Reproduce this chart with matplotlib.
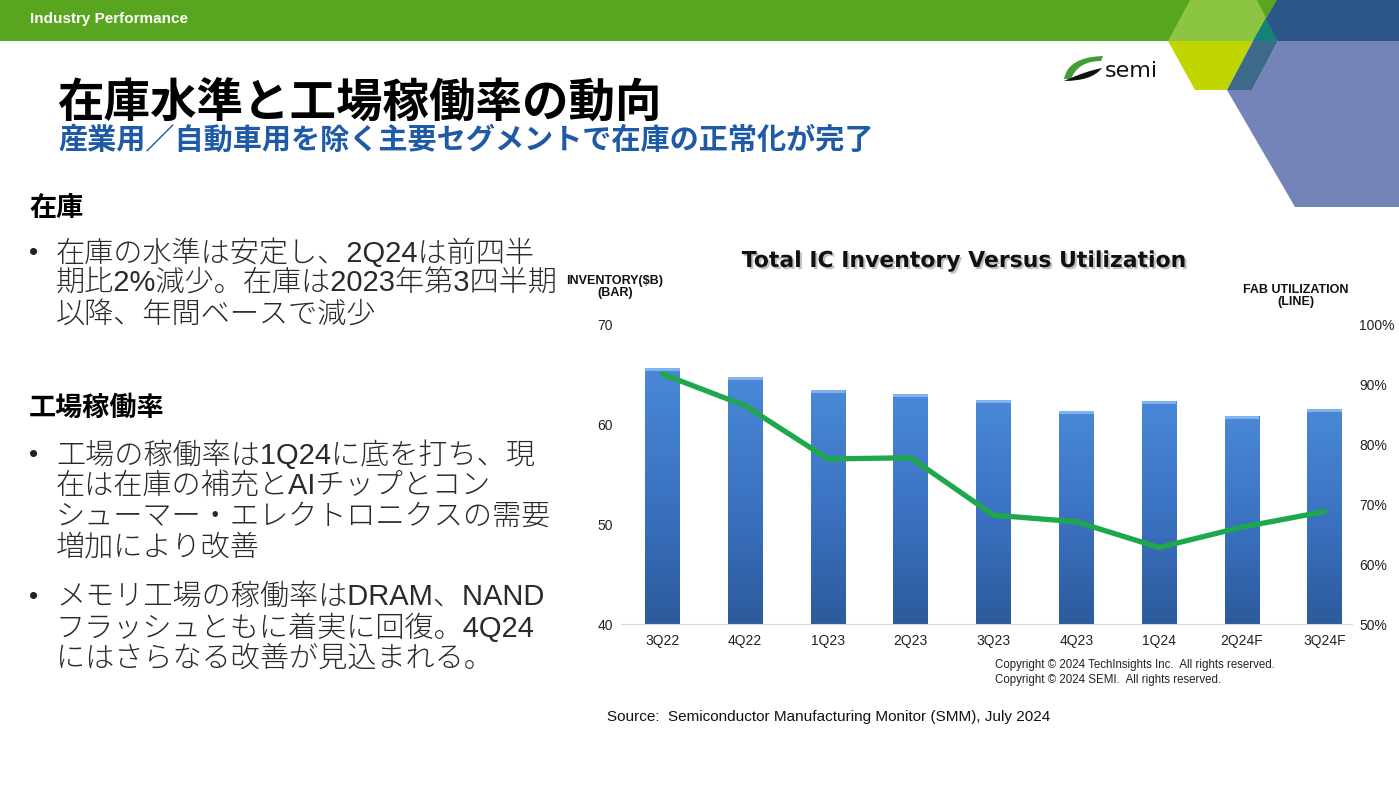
""" Inventory vs fab utilization slide """
import numpy as np
import matplotlib
matplotlib.use('Agg')
import matplotlib.pyplot as plt
import matplotlib.patheffects as pe
from matplotlib.patches import Polygon, PathPatch
from matplotlib.path import Path
from matplotlib.colors import LinearSegmentedColormap
from matplotlib import font_manager

quarters = ['3Q22', '4Q22', '1Q23', '2Q23', '3Q23', '4Q23', '1Q24', '2Q24F', '3Q24F']
inventory = [65.7, 64.8, 63.5, 63.1, 62.5, 61.4, 62.4, 60.9, 61.6]      # $B, bars
utilization = [91.8, 86.5, 77.6, 77.8, 68.2, 67.1, 62.8, 66.2, 68.8]    # %, line
inv_ticks = [40, 50, 60, 70]
util_ticks = [50, 60, 70, 80, 90, 100]

names = set(f.name for f in font_manager.fontManager.ttflist)
narrow = 'Liberation Sans Narrow' if 'Liberation Sans Narrow' in names else 'Liberation Sans'
JP = ['Liberation Sans', 'Noto Sans CJK JP', 'DejaVu Sans']

fig = plt.figure(figsize=(13.99, 7.87), dpi=100)

""" Slide background in pixel coordinates """
bg = fig.add_axes([0, 0, 1, 1], zorder=0)
bg.set_xlim(0, 1399)
bg.set_ylim(787, 0)
bg.axis('off')

bg.add_patch(Polygon([(0, 0), (1399, 0), (1399, 41), (0, 41)], color='#58a51f', lw=0))
bg.add_patch(Polygon([(1277, 0), (1399, 0), (1399, 41), (1253, 41)], color='#2c5689', lw=0))
bg.add_patch(Polygon([(1190, 0), (1257, 0), (1266, 18), (1253, 41), (1168, 41)], color='#8cc542', lw=0))
bg.add_patch(Polygon([(1266, 18), (1278, 41), (1253, 41)], color='#16807a', lw=0))
bg.add_patch(Polygon([(1168, 41), (1253, 41), (1227, 90), (1195, 90)], color='#c1d600', lw=0))
bg.add_patch(Polygon([(1278, 41), (1399, 41), (1399, 207), (1295, 207), (1227, 90), (1252, 90)],
                     color='#7484b8', lw=0))
bg.add_patch(Polygon([(1253, 41), (1278, 41), (1252, 90), (1227, 90)], color='#3d6a8a', lw=0))

bg.text(30, 19, 'Industry Performance', color='white', fontsize=11, fontweight='bold',
        family='Liberation Sans', va='center')

""" semi logo """
green = Path([(1064, 79), (1068, 57), (1103, 56), (1101, 61), (1078, 61), (1071, 79), (1064, 79)],
             [Path.MOVETO, Path.CURVE3, Path.CURVE3, Path.LINETO, Path.CURVE3, Path.CURVE3, Path.CLOSEPOLY])
black = Path([(1064, 81), (1092, 81), (1102, 68), (1086, 71), (1064, 81)],
             [Path.MOVETO, Path.CURVE3, Path.CURVE3, Path.CURVE3, Path.CURVE3])
bg.add_patch(PathPatch(green, color='#3f9e35', lw=0))
bg.add_patch(PathPatch(black, color='#111111', lw=0))
bg.text(1105, 71, 'semi', fontsize=16, family='DejaVu Sans', color='#111111', va='center')

""" Titles """
bg.text(58, 103, '在庫水準と工場稼働率の動向', fontsize=33.5, fontweight='bold',
        family=['Noto Sans CJK JP'], va='center', color='black')
bg.text(58, 140, '産業用／自動車用を除く主要セグメントで在庫の正常化が完了', fontsize=21,
        fontweight='bold', family=['Noto Sans CJK JP'], va='center', color='#1f5aa6')

""" Left text """
bg.text(29, 209, '在庫', fontsize=19.5, fontweight='bold', family=JP, va='center')
bg.text(29, 409, '工場稼働率', fontsize=19.5, fontweight='bold', family=JP, va='center')

lines = [
    (253, True, '在庫の水準は安定し、2Q24は前四半'),
    (284, False, '期比2%減少。在庫は2023年第3四半期'),
    (315, False, '以降、年間ベースで減少'),
    (455, True, '工場の稼働率は1Q24に底を打ち、現'),
    (486, False, '在は在庫の補充とAIチップとコン'),
    (517, False, 'シューマー・エレクトロニクスの需要'),
    (548, False, '増加により改善'),
    (597, True, 'メモリ工場の稼働率はDRAM、NAND'),
    (628, False, 'フラッシュともに着実に回復。4Q24'),
    (659, False, 'にはさらなる改善が見込まれる。'),
]
for y, bullet, s in lines:
    if bullet:
        bg.text(29, y, '•', fontsize=19, family='Liberation Sans', va='center', color='#222222')
    bg.text(56, y, s, fontsize=21, family=JP, fontweight='light', va='center', color='#2a2a2a')

""" Chart """
ax = fig.add_axes([621 / 1399, 1 - 624 / 787, (1352 - 621) / 1399, (624 - 325) / 787], zorder=2)
ax.patch.set_alpha(0)
x = np.arange(len(quarters))
bars = ax.bar(x, inventory, width=0.42, bottom=0, color='none', zorder=2)
cmap = LinearSegmentedColormap.from_list('bar', ['#2c5a9c', '#3b73c2', '#4a88d8'])
grad = np.linspace(0, 1, 256).reshape(-1, 1)
for b in bars:
    x0, w, h = b.get_x(), b.get_width(), b.get_height()
    im = ax.imshow(grad, extent=[x0, x0 + w, 40, h], origin='lower', cmap=cmap,
                   aspect='auto', zorder=2)
    im.set_clip_path(b)
    ax.add_patch(Polygon([(x0, h - 0.35), (x0 + w, h - 0.35), (x0 + w, h), (x0, h)],
                         color='#7fb2ee', lw=0, zorder=3))

ax.set_xlim(-0.5, 8.33)
ax.set_ylim(40, 70)
ax.set_yticks(inv_ticks)
ax.set_xticks(x)
ax.set_xticklabels(quarters)
for s in ['top', 'left', 'right']:
    ax.spines[s].set_visible(False)
ax.spines['bottom'].set_color('#d9d9d9')
ax.tick_params(axis='both', length=0, labelsize=10, labelcolor='#222222')
ax.tick_params(axis='x', pad=7)
ax.tick_params(axis='y', pad=6)
for t in ax.get_xticklabels() + ax.get_yticklabels():
    t.set_family(narrow)

ax2 = ax.twinx()
ax2.set_zorder(3)
ax2.patch.set_alpha(0)
ax2.plot(x, utilization, color='#1ea84b', lw=3.8, solid_joinstyle='round',
         solid_capstyle='round')
ax2.set_ylim(50, 100)
ax2.set_yticks(util_ticks)
ax2.set_yticklabels(['{}%'.format(v) for v in util_ticks])
for s in ax2.spines.values():
    s.set_visible(False)
ax2.tick_params(axis='y', length=0, labelsize=10, labelcolor='#222222', pad=5)
for t in ax2.get_yticklabels():
    t.set_family(narrow)

bg.text(965, 261, 'Total IC Inventory Versus Utilization', fontsize=15.8, fontweight='bold',
        family='DejaVu Sans', ha='center', va='center', color='#111111',
        path_effects=[pe.withSimplePatchShadow(offset=(1.5, -1.5), shadow_rgbFace='#888888', alpha=0.5)])
bg.text(615, 287, 'INVENTORY($B)\n(BAR)', fontsize=9, fontweight='bold', family=narrow,
        ha='center', va='center', linespacing=1.1, color='#111111')
bg.text(1296, 296, 'FAB UTILIZATION\n(LINE)', fontsize=9, fontweight='bold', family=narrow,
        ha='center', va='center', linespacing=1.1, color='#111111')

bg.text(995, 665, 'Copyright © 2024 TechInsights Inc.  All rights reserved.', fontsize=8.3,
        family=narrow, va='center', color='#222222')
bg.text(995, 680, 'Copyright © 2024 SEMI.  All rights reserved.', fontsize=8.3,
        family=narrow, va='center', color='#222222')
bg.text(607, 717, 'Source:  Semiconductor Manufacturing Monitor (SMM), July 2024', fontsize=11,
        family='Liberation Sans', va='center', color='#111111')

fig.savefig('out.png', dpi=100)
